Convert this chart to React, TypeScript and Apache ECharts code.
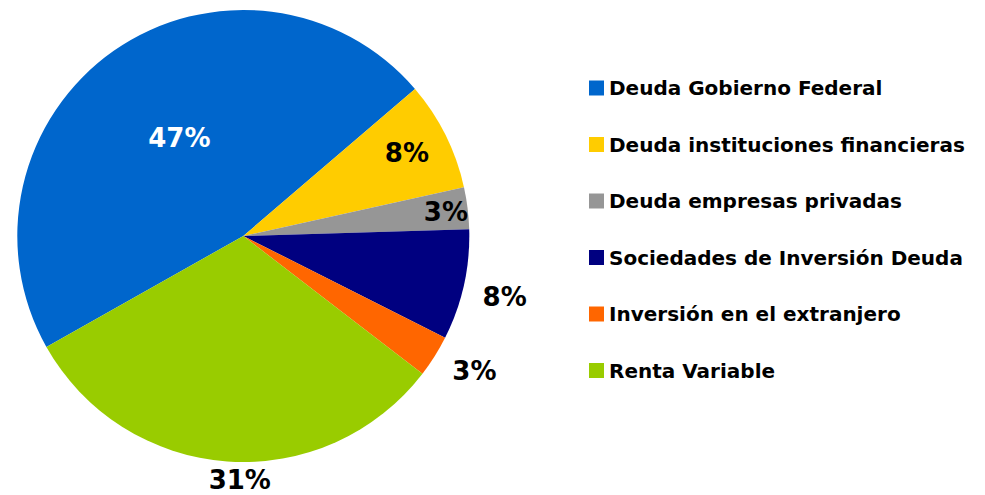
import React, { useEffect, useRef } from "react";
import * as echarts from "echarts";

const categories = [
  "Deuda Gobierno Federal",
  "Deuda instituciones financieras",
  "Deuda empresas privadas",
  "Sociedades de Inversión Deuda",
  "Inversión en el extranjero",
  "Renta Variable",
];
const values = [46.9, 7.8, 3.0, 7.9, 3.0, 31.4];
const colors = ["#0066CC", "#FFCC00", "#969696", "#000080", "#FF6600", "#99CC00"];
const labelColors = ["#FFFFFF", "#000000", "#000000", "#000000", "#000000", "#000000"];
const labelLineLength = [-106, -41, -28, 55, 28, 19];
const labelLineLength2 = [-41, -29, -21, -40, -11, -50];

export default function App() {
  const ref = useRef<HTMLDivElement>(null);
  useEffect(() => {
    if (!ref.current) return;
    const chart = echarts.init(ref.current, null, { renderer: "svg" });
    chart.setOption({
      animation: false,
      backgroundColor: "#FFFFFF",
      legend: {
        orient: "vertical",
        left: 584,
        top: 73,
        icon: "rect",
        itemWidth: 15,
        itemHeight: 15,
        itemGap: 36.5,
        data: categories,
        textStyle: {
          fontFamily: "DejaVu Sans",
          fontWeight: "bold",
          fontSize: 20,
          lineHeight: 20,
          color: "#000000",
        },
      },
      series: [
        {
          type: "pie",
          center: [243.3, 236],
          radius: 226,
          startAngle: 209.4,
          clockwise: true,
          avoidLabelOverlap: false,
          percentPrecision: 0,
          label: {
            position: "outside",
            formatter: "{d}%",
            fontFamily: "DejaVu Sans",
            fontWeight: "bold",
            fontSize: 26,
            lineHeight: 20,
          },
          labelLine: { show: false },
          data: categories.map((name, i) => ({
            name,
            value: values[i],
            itemStyle: { color: colors[i] },
            label: { color: labelColors[i] },
            labelLine: { show: false, length: labelLineLength[i], length2: labelLineLength2[i] },
          })),
        },
      ],
    });
    return () => chart.dispose();
  }, []);
  return (
    <div
      ref={ref}
      style={{ position: "fixed", left: 0, top: 0, width: 985, height: 495 }}
    />
  );
}
